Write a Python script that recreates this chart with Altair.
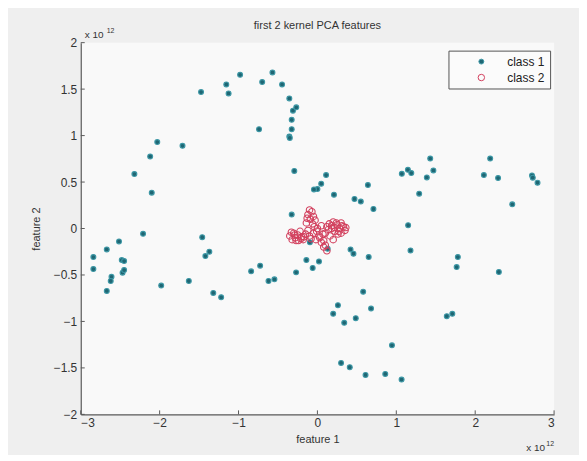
import altair as alt
import pandas as pd

# class 1 (feature values in units of 1e12)
c1_x = [-2.32, -2.12, -2.03, -2.10, -1.71, -1.475, -1.155, -1.126, -0.98, -0.70,
        -0.57, -0.448, -0.74, -0.356, -0.31, -0.268, -0.326, -0.326, -0.356, -0.35,
        -0.293, -0.326, 1.43, 1.147, 1.07, 1.19, 1.47, 1.387, 1.29, 2.19,
        2.11, 2.29, 2.72, 2.73, 2.79, 2.47, 0.11, 0.048, 0.0, -0.044,
        0.21, 0.64, 0.47, 0.55, 0.71, 1.15, 1.18, 1.78, 1.765, 2.30,
        -0.095, 0.13, 0.42, 0.457, 0.65, -0.14, 0.02, -0.06, -0.27, 0.58,
        0.26, 0.20, 0.68, 0.486, 0.34, 1.64, 1.71, 0.945, 0.30, 0.41,
        0.61, 0.86, 1.067, -2.84, -2.84, -2.67, -2.515, -2.21, -2.67, -2.61,
        -2.62, -2.48, -2.45, -2.47, -2.45, -1.98, -1.63, -1.46, -1.42, -1.37,
        -1.32, -1.22, -0.84, -0.726, -0.62, -0.545]
c1_y = [0.586, 0.775, 0.93, 0.386, 0.89, 1.468, 1.55, 1.454, 1.654, 1.576,
        1.68, 1.55, 1.069, 1.40, 1.268, 1.304, 1.17, 1.069, 0.99, 0.975,
        0.62, 0.15, 0.753, 0.632, 0.589, 0.597, 0.625, 0.55, 0.375, 0.753,
        0.575, 0.543, 0.571, 0.547, 0.493, 0.26, 0.575, 0.482, 0.425, 0.42,
        0.364, 0.468, 0.318, 0.29, 0.21, 0.035, -0.236, -0.307, -0.415, -0.468,
        -0.147, -0.218, -0.225, -0.271, -0.307, -0.34, -0.354, -0.425, -0.472, -0.68,
        -0.825, -0.918, -0.861, -0.965, -1.015, -0.943, -0.918, -1.257, -1.447, -1.493,
        -1.576, -1.565, -1.626, -0.307, -0.436, -0.225, -0.139, -0.057, -0.672, -0.52,
        -0.565, -0.34, -0.35, -0.475, -0.447, -0.614, -0.565, -0.093, -0.297, -0.25,
        -0.693, -0.74, -0.461, -0.40, -0.565, -0.547]

# class 2 (tight cluster near the origin)
c2_x = [-0.10, -0.07, -0.12, -0.05, -0.09, -0.03, -0.14, -0.06,
        -0.35, -0.30, -0.28, -0.25, -0.22, -0.20, -0.32, -0.18, -0.24, -0.15, -0.12, -0.10,
        -0.05, 0.00, 0.02, 0.05, -0.02, 0.05, 0.08, 0.10, 0.12, 0.03,
        0.12, 0.15, 0.18, 0.20, 0.22, 0.25, 0.28, 0.30, 0.33, 0.35,
        0.26, 0.16, 0.20, 0.10, 0.30,
        -0.33, -0.27, -0.21, -0.29, -0.17, -0.08, -0.01, 0.07, 0.14, 0.24,
        0.31, 0.27, 0.18, 0.08, -0.04, 0.36, 0.22, -0.13]
c2_y = [0.20, 0.18, 0.15, 0.13, 0.10, 0.09, 0.06, 0.05,
        -0.08, -0.05, -0.10, -0.07, -0.03, -0.09, -0.12, -0.12, -0.13, -0.06, -0.02, -0.08,
        -0.05, 0.00, -0.08, 0.03, -0.12, -0.15, -0.20, -0.18, -0.24, -0.10,
        0.02, 0.05, 0.00, 0.07, -0.03, 0.04, 0.00, 0.06, 0.02, -0.02,
        -0.06, -0.08, -0.12, -0.05, -0.05,
        -0.04, -0.13, -0.11, -0.07, -0.09, -0.11, -0.03, -0.06, -0.01, 0.06,
        0.03, -0.03, 0.03, -0.13, 0.02, 0.01, 0.01, 0.11]

x_ticks = [-3, -2, -1, 0, 1, 2, 3]
y_ticks = [-2, -1.5, -1, -0.5, 0, 0.5, 1, 1.5, 2]

df = pd.DataFrame({
    "f1": c1_x + c2_x,
    "f2": c1_y + c2_y,
    "cls": ["class 1"] * len(c1_x) + ["class 2"] * len(c2_x),
})

W, H = 475, 373
xs = alt.Scale(domain=[-3, 3], nice=False, zero=False)
ys = alt.Scale(domain=[-2, 2], nice=False, zero=False)

ax_common = dict(grid=False, domainColor="#5a5a5a", domainWidth=1.2,
                 tickSize=0, labelColor="#333333", labelFont="Liberation Sans",
                 labelFontSize=12, titleFont="Liberation Sans", titleFontSize=11,
                 titleFontWeight="normal", titleColor="#333333", format="~g")

cls_domain = ["class 1", "class 2"]
leg = alt.Legend(title=None, orient="none", legendX=369, legendY=8,
                 strokeColor="#555555", fillColor="#fbfbfb",
                 padding=5, labelFontSize=12, labelFont="Liberation Sans",
                 labelColor="#222222", symbolOffset=22, labelOffset=20,
                 rowPadding=4, symbolStrokeWidth=1, offset=0)
points = alt.Chart(df).mark_point(opacity=1, strokeWidth=1.1).encode(
    x=alt.X("f1:Q", scale=xs, axis=alt.Axis(values=x_ticks, title="feature 1",
                                            labelPadding=3, titlePadding=5, **ax_common)),
    y=alt.Y("f2:Q", scale=ys, axis=alt.Axis(values=y_ticks, title="feature 2",
                                            labelPadding=4, titlePadding=12, **ax_common)),
    stroke=alt.Stroke("cls:N", scale=alt.Scale(domain=cls_domain, range=["#3c97a5", "#d2405e"]),
                      legend=leg),
    fill=alt.Fill("cls:N", scale=alt.Scale(domain=cls_domain, range=["#1f6673", "transparent"]),
                  legend=leg),
    size=alt.Size("cls:N", scale=alt.Scale(domain=cls_domain, range=[24, 42]), legend=leg),
)

tdf_x = pd.DataFrame({"t": x_ticks})
tdf_y = pd.DataFrame({"t": y_ticks})
xt = alt.Chart(tdf_x).mark_rule(color="#5a5a5a").encode(
    x=alt.X("t:Q", scale=xs), y=alt.value(H), y2=alt.value(H - 4))
yt = alt.Chart(tdf_y).mark_rule(color="#5a5a5a").encode(
    y=alt.Y("t:Q", scale=ys), x=alt.value(0), x2=alt.value(4))

ann = pd.DataFrame({"x": [-3.0, 3.0, 0.0], "y": [2.0, -2.0, 2.0]})
enc = dict(x=alt.X("x:Q", scale=xs), y=alt.Y("y:Q", scale=ys))
txt_style = dict(font="Liberation Sans", color="#333333", baseline="bottom")
top_txt = alt.Chart(ann.iloc[[0]]).mark_text(text="x 10", align="left", dx=4, dy=-3,
                                              fontSize=10, **txt_style).encode(**enc)
top_sup = alt.Chart(ann.iloc[[0]]).mark_text(text="12", align="left", dx=26, dy=-9,
                                              fontSize=7, **txt_style).encode(**enc)
bot_txt = alt.Chart(ann.iloc[[1]]).mark_text(text="x 10", align="right", dx=-9, dy=39,
                                              fontSize=10, **txt_style).encode(**enc)
bot_sup = alt.Chart(ann.iloc[[1]]).mark_text(text="12", align="right", dx=0, dy=33,
                                              fontSize=7, **txt_style).encode(**enc)
title_txt = alt.Chart(ann.iloc[[2]]).mark_text(text="first 2 kernel PCA features", align="center",
                                                dy=-12, fontSize=11, **txt_style).encode(**enc)

chart = alt.layer(xt, yt, points, top_txt, top_sup, bot_txt, bot_sup, title_txt).properties(
    width=W, height=H,
    autosize=alt.AutoSizeParams(type="none"),
    padding={"left": 73, "top": 34, "right": 25, "bottom": 40},
    background="#efefef",
).configure_view(fill="#f9f9f9", stroke=None)

chart.save("out.html", embed_options={"renderer": "svg", "actions": False})
